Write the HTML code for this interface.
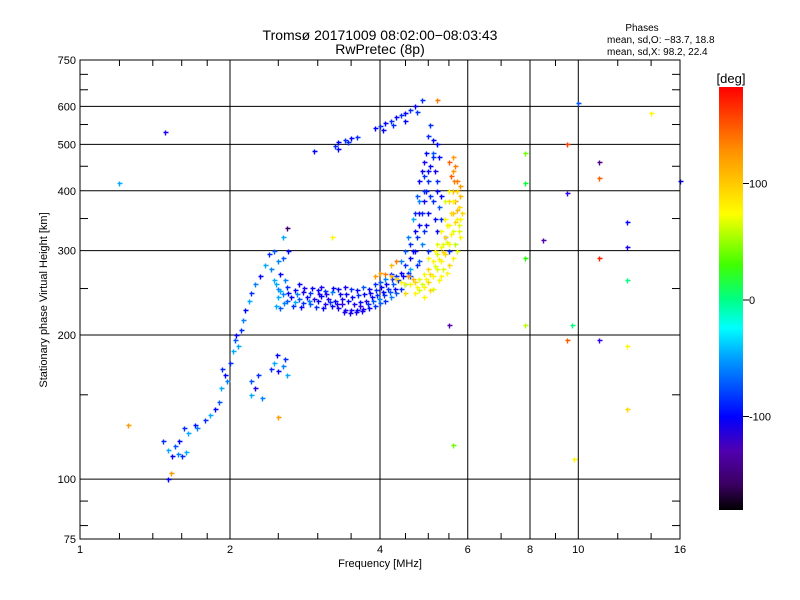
<!DOCTYPE html>
<html><head><meta charset="utf-8"><style>
body{margin:0;background:#fff}
svg{display:block;font-family:"Liberation Sans",sans-serif}
</style></head><body>
<svg id="c" width="800" height="600">
<defs><linearGradient id="cb" x1="0" y1="1" x2="0" y2="0">
<stop offset="0" stop-color="#000"/><stop offset="0.06" stop-color="#3a0060"/><stop offset="0.14" stop-color="#5000b0"/>
<stop offset="0.22" stop-color="#0000ff"/><stop offset="0.36" stop-color="#00a0ff"/><stop offset="0.43" stop-color="#00ffff"/>
<stop offset="0.5" stop-color="#00ff80"/><stop offset="0.58" stop-color="#40ff00"/><stop offset="0.7" stop-color="#ffff00"/>
<stop offset="0.85" stop-color="#ff9000"/><stop offset="1" stop-color="#ff0000"/></linearGradient></defs>
<text x="380" y="40" font-size="14" text-anchor="middle">Tromsø 20171009 08:02:00−08:03:43</text>
<text x="380" y="54" font-size="14" text-anchor="middle">RwPretec (8p)</text>
<text x="642" y="31" font-size="10" text-anchor="middle">Phases</text>
<text x="607" y="43" font-size="10">mean, sd,O: −83.7, 18.8</text>
<text x="607" y="55" font-size="10">mean, sd,X:  98.2, 22.4</text>
<g id="grid"></g>
<g id="axes"></g>
<g id="pts"></g>
<rect x="80" y="60" width="600" height="479" fill="none" stroke="#000"/>
<text x="380" y="567" font-size="11" text-anchor="middle">Frequency [MHz]</text>
<text transform="translate(47,300) rotate(-90)" font-size="11" text-anchor="middle">Stationary phase Virtual Height [km]</text>
<rect x="719" y="87" width="24" height="423" fill="url(#cb)"/>
<text x="731" y="83" font-size="13" text-anchor="middle">[deg]</text>
<g id="cbt"></g>
</svg>
<script>
const xTicks=[1,2,4,6,8,10,16];
const yTicks=[75,100,200,300,400,500,600,750];
const xMinor=[1.2,1.4,1.6,1.8,2.5,3,3.5,4.5,5,5.5,7,9,12,14];
const yMinor=[80,90,150,250,350,450,550,650,700];
const cbTicks=[100,0,-100];
const oTrace=[[1.47,120,-90],[1.5,115,-60],[1.53,112,-100],[1.57,113,-70],[1.6,112,-90],[1.63,114,-60],[1.55,117,-80],[1.58,120,-100],[1.62,128,-90],[1.65,125,-60],[1.7,130,-95],[1.72,128,-70],[1.78,133,-90],[1.82,136,-60],[1.87,140,-100],[1.9,145,-80],[1.92,155,-60],[1.95,165,-100],[1.93,170,-90],[1.97,160,-70],[2.0,175,-90],[2.03,185,-60],[2.05,195,-80],[2.06,200,-100],[2.08,190,-60],[2.1,205,-90],[2.12,215,-70],[2.14,225,-100],[2.18,235,-60],[2.2,245,-90],[2.25,255,-70],[2.3,265,-100],[2.35,280,-60],[2.4,295,-90],[2.42,275,-70],[2.45,260,-60],[2.42,170,-90],[2.45,175,-60],[2.5,168,-100],[2.55,172,-70],[2.58,178,-90],[2.6,165,-60],[2.48,182,-100],[2.2,160,-80],[2.25,155,-110],[2.2,150,-60],[2.28,165,-90],[2.32,148,-70]];
const oBand=[[2.5,250,-70],[2.6,252,-90],[2.7,248,-100],[2.8,246,-110],[2.9,245,-90],[3.0,248,-100],[3.1,247,-90],[3.2,246,-70],[3.3,250,-100],[3.4,252,-110],[3.5,250,-90],[3.6,248,-100],[3.7,252,-80],[3.8,250,-100],[3.9,255,-90],[4.0,258,-80],[4.1,262,-70],[4.2,268,-90],[2.5,240,-60],[2.6,236,-80],[2.7,234,-60],[2.8,233,-90],[2.9,232,-80],[3.0,235,-100],[3.1,232,-110],[3.2,230,-100],[3.3,228,-110],[3.4,226,-110],[3.5,225,-110],[3.6,226,-100],[3.7,227,-110],[3.8,228,-100],[3.9,230,-90],[4.0,233,-80],[4.1,236,-90],[4.2,240,-70],[4.3,245,-80],[4.4,250,-90],[4.5,255,-70],[2.55,244,-70],[2.65,240,-100],[2.75,238,-80],[2.85,240,-100],[2.95,238,-110],[3.05,241,-100],[3.15,238,-110],[3.25,236,-100],[3.35,238,-110],[3.45,236,-100],[3.55,232,-110],[3.65,234,-100],[3.75,236,-110],[3.85,240,-100],[3.95,242,-90],[4.05,246,-100],[4.15,250,-90],[4.25,255,-80],[2.47,255,-60],[2.47,230,-60],[2.52,228,-80],[3.35,232,-120],[3.65,230,-120],[2.75,256,-100],[3.05,252,-110]];
const oBand2=[[2.52,247,-60],[2.57,233,-70],[2.62,245,-100],[2.68,230,-90],[2.72,243,-70],[2.78,229,-100],[2.82,251,-110],[2.88,236,-70],[2.92,251,-100],[2.98,229,-90],[3.02,244,-110],[3.08,228,-100],[3.12,243,-110],[3.18,234,-90],[3.22,251,-100],[3.28,232,-110],[3.32,244,-100],[3.38,223,-110],[3.42,244,-100],[3.48,222,-110],[3.52,240,-100],[3.58,223,-110],[3.62,242,-90],[3.68,224,-110],[3.72,243,-100],[3.78,232,-90],[3.82,245,-100],[3.88,236,-80],[3.92,248,-90],[3.98,238,-70],[4.02,252,-100],[4.08,242,-90],[4.12,256,-100],[4.18,246,-80],[4.22,262,-90],[4.28,250,-100],[4.35,260,-90],[4.45,265,-100],[4.55,270,-90],[4.6,265,-80],[2.58,260,-70],[2.52,268,-100],[2.55,290,-80],[2.62,300,-100],[2.5,285,-70]];
const oRise=[[4.3,265,-90],[4.4,270,-100],[4.5,280,-90],[4.6,290,-100],[4.7,300,-110],[4.75,320,-90],[4.8,340,-100],[4.85,360,-90],[4.9,380,-110],[4.95,400,-100],[5.0,420,-90],[5.05,450,-100],[5.1,480,-80],[5.1,510,-100],[4.5,300,-80],[4.6,310,-90],[4.7,330,-100],[4.8,360,-110],[4.9,400,-90],[5.0,440,-100],[5.1,470,-90],[5.2,500,-100],[5.2,420,-90],[5.3,390,-100],[5.3,350,-90],[5.4,320,-100],[5.5,300,-90],[4.4,285,-70],[4.6,275,-60],[4.8,285,-80],[5.0,300,-90],[5.2,330,-100],[4.9,330,-90],[5.0,360,-100],[5.1,380,-90],[5.2,400,-100],[4.7,360,-90],[4.8,420,-100],[4.9,460,-110],[5.0,520,-90],[4.65,350,-60],[4.75,390,-80],[4.85,440,-100],[5.15,440,-110],[5.25,470,-100],[4.55,320,-70],[4.65,300,-100],[4.75,280,-90],[4.85,310,-70],[4.95,340,-100],[5.05,390,-90],[5.15,350,-100],[5.25,370,-80],[4.95,480,-100],[5.05,550,-90],[4.8,380,-70],[4.9,430,-90]];
const oUpper=[[2.95,485,-100],[3.25,495,-90],[3.3,505,-100],[3.4,510,-90],[3.5,515,-100],[3.6,518,-90],[3.9,540,-100],[4.0,545,-90],[4.1,555,-100],[4.2,560,-90],[4.3,570,-100],[4.4,575,-90],[4.5,580,-100],[4.6,590,-90],[4.7,600,-100],[4.85,620,-90],[3.3,490,-100],[3.45,505,-90],[4.05,535,-100],[4.25,550,-90],[4.5,560,-100],[4.75,585,-90]];
const xTrace=[[4.2,265,120],[4.3,262,110],[4.4,258,100],[4.5,255,90],[4.6,255,100],[4.7,258,110],[4.8,262,90],[4.9,268,100],[5.0,275,110],[5.1,285,100],[5.2,295,90],[5.3,305,100],[5.4,320,110],[5.5,340,100],[5.6,360,120],[5.65,380,130],[5.7,400,110],[5.7,420,140],[5.6,440,130],[5.5,460,150],[5.6,470,130],[4.7,245,100],[4.8,248,90],[4.9,252,100],[5.0,258,110],[5.1,265,100],[5.2,275,90],[5.3,285,100],[5.4,295,110],[5.5,310,100],[5.6,330,90],[5.7,350,100],[5.75,370,110],[5.8,390,120],[5.8,320,100],[5.7,300,90],[5.6,290,100],[5.5,280,110],[5.3,265,100],[5.1,250,90],[4.9,240,100],[4.5,245,110],[5.4,350,100],[5.5,380,110],[5.6,400,120],[5.3,330,100],[5.2,310,90],[5.0,290,100],[4.0,270,130],[4.1,268,140],[3.9,265,130],[4.2,280,120],[4.3,285,140],[5.75,340,90],[5.65,310,80]];
const xTrace2=[[4.75,252,100],[4.85,256,90],[4.95,262,100],[5.05,268,110],[5.15,278,90],[5.25,288,100],[5.35,298,110],[5.45,312,90],[5.55,325,100],[5.65,345,110],[5.72,365,120],[5.78,410,130],[5.62,420,140],[5.55,430,150],[5.45,270,100],[5.35,275,90],[5.25,260,100],[5.05,248,110],[4.65,262,120],[4.55,265,130],[5.4,380,90],[5.5,400,100],[5.55,360,110],[5.45,340,100],[5.75,330,90],[5.8,350,100],[5.85,360,110],[5.35,310,90],[5.15,300,100],[5.65,450,140],[5.6,380,100]];
const sparse=[[1.2,415,-60],[1.48,530,-110],[2.6,335,-170],[2.45,300,-80],[2.55,320,-60],[1.25,130,130],[1.52,103,130],[2.5,135,130],[3.2,320,100],[5.2,620,140],[5.6,118,60],[7.8,480,60],[7.8,415,20],[7.8,290,40],[7.8,210,80],[8.5,315,-150],[9.5,500,160],[9.5,395,-120],[9.5,195,150],[9.7,210,0],[9.8,110,100],[10,610,-80],[11,460,-160],[11,425,150],[11,290,170],[11,195,-120],[12.5,345,-100],[12.5,305,-110],[12.5,260,0],[12.5,190,100],[12.5,140,110],[14,580,100],[16,420,-100],[5.5,210,-150],[1.5,100,-100]];

const NS='http://www.w3.org/2000/svg';
const xs=f=>80+150*Math.log2(f);
const ys=h=>539-479*Math.log10(h/75);
const cy=v=>300-1.165*v;
function mk(tag,attrs,parent){const e=document.createElementNS(NS,tag);for(const k in attrs)e.setAttribute(k,attrs[k]);parent.appendChild(e);return e;}
const grid=document.getElementById('grid'),axes=document.getElementById('axes'),pts=document.getElementById('pts'),cbt=document.getElementById('cbt');
xTicks.forEach(t=>{const x=xs(t);
 if(t>1&&t<16){const l=mk('line',{x1:x,x2:x,y1:60,y2:539,stroke:'#000'},grid);}
 const tx=mk('text',{x:x,y:553,'font-size':11,'text-anchor':'middle'},axes);tx.textContent=t;
 });
yTicks.forEach(t=>{const y=ys(t);
 if(t>75&&t<750){const l=mk('line',{x1:80,x2:680,y1:y,y2:y,stroke:'#000'},grid);}
 const tx=mk('text',{x:76,y:y+4,'font-size':11,'text-anchor':'end'},axes);tx.textContent=t;
 });
xMinor.forEach(t=>{const x=xs(t);
 const a=mk('line',{x1:x,x2:x,y1:60,y2:66,stroke:'#000'},axes);
 const b=mk('line',{x1:x,x2:x,y1:533,y2:539,stroke:'#000'},axes);});
yMinor.forEach(t=>{const y=ys(t);
 const a=mk('line',{x1:80,x2:88,y1:y,y2:y,stroke:'#000'},axes);
 const b=mk('line',{x1:672,x2:680,y1:y,y2:y,stroke:'#000'},axes);});
cbTicks.forEach(v=>{const y=cy(v);
 const l=mk('line',{x1:743,x2:749,y1:y,y2:y,stroke:'#000'},cbt);
 const tx=mk('text',{x:749,y:y+4,'font-size':11},cbt);tx.textContent=v;
 });
function col(v){const st=[[-180,280,15],[-140,265,40],[-100,240,50],[-50,190,50],[0,150,50],[100,58,50],[180,0,50]];
 for(let i=0;i<st.length-1;i++){const a=st[i],b=st[i+1];if(v<=b[0]){const t=(v-a[0])/(b[0]-a[0]);return `hsl(${a[1]+t*(b[1]-a[1])},100%,${a[2]+t*(b[2]-a[2])}%)`;}}
 return 'hsl(0,100%,50%)';}
[oTrace,oBand,oBand2,oRise,oUpper,xTrace,xTrace2,sparse].forEach(arr=>arr.forEach(p=>{
 const x=Math.round(xs(p[0]))+.5,y=Math.round(ys(p[1]))+.5;
 const e=mk('path',{d:`M${x-2} ${y}h5M${x} ${y-2}v5`,stroke:col(p[2]),'stroke-width':1.4,fill:'none'},pts);
 
 }));
</script>
</body></html>
